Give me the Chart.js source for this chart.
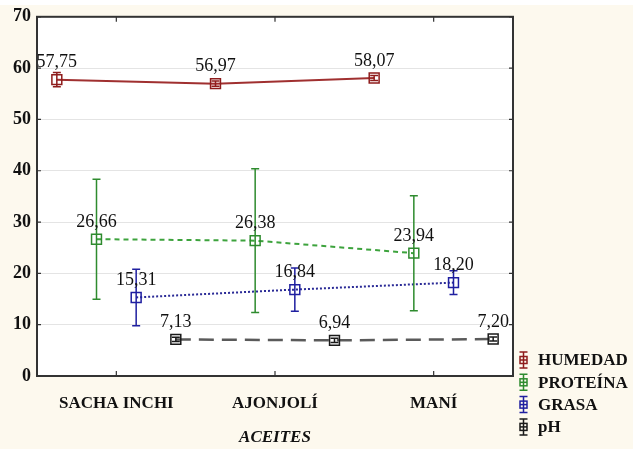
<!DOCTYPE html>
<html>
<head>
<meta charset="utf-8">
<script src="https://cdn.jsdelivr.net/npm/chart.js@4.4.1/dist/chart.umd.min.js"></script>
<style>
  html, body { margin: 0; padding: 0; background: #FDF9EE; }
  canvas { display: block; }
</style>
</head>
<body>
<canvas id="c" width="633" height="449"></canvas>
<script>
// ---- data ----
const categories = ['SACHA INCHI', 'AJONJOLÍ', 'MANÍ'];
const seriesNames = ['HUMEDAD', 'PROTEÍNA', 'GRASA', 'pH'];
const humedad  = [57.75, 56.97, 58.07];
const proteina = [26.66, 26.38, 23.94];
const grasa    = [15.31, 16.84, 18.20];
const ph       = [7.13, 6.94, 7.20];
const humedadErr  = [1.4, 0.5, 0.5];
const proteinaErr = [11.7, 14.0, 11.2];
const grasaErr    = [5.5, 4.2, 2.3];
const phErr       = [0.4, 0.4, 0.4];
const yTicks = [0, 10, 20, 30, 40, 50, 60, 70];
const xTitle = 'ACEITES';
// offset of each series inside its category group (in category units)
const seriesOffset = [-0.375, -0.125, 0.125, 0.375];

const colors = {
  line:   ['#A03030', '#3DA33D', '#2A2A96', '#5A5A5A'],
  marker: ['#8E1C1C', '#2E8B2E', '#1F1FA0', '#1A1A1A']
};
const dashes = [[], [5, 4], [2, 2], [15, 8]];
const values = [humedad, proteina, grasa, ph];
const errors = [humedadErr, proteinaErr, grasaErr, phErr];

const fmt = v => v.toFixed(2).replace('.', ',');

const datasets = seriesNames.map((name, k) => ({
  label: name,
  data: values[k].map((v, i) => ({ x: i + seriesOffset[k], y: v })),
  errors: errors[k],
  borderColor: colors.line[k],
  backgroundColor: 'rgba(0,0,0,0)',
  borderWidth: k === 3 ? 2.5 : 2,
  borderDash: dashes[k],
  pointStyle: 'rect',
  pointRadius: 7,
  pointHoverRadius: 7,
  pointBorderColor: colors.marker[k],
  pointBackgroundColor: 'rgba(0,0,0,0)',
  pointBorderWidth: 1.5,
  markerColor: colors.marker[k],
  tension: 0
}));

const serif = '"Liberation Serif", "Times New Roman", serif';

const framePlugin = {
  id: 'frame',
  beforeDraw(chart) {
    const { ctx, chartArea: a } = chart;
    ctx.save();
    ctx.fillStyle = '#FDF9EE';
    ctx.fillRect(0, 0, chart.width, chart.height);
    ctx.fillStyle = '#FFFFFF';
    ctx.fillRect(0, 0, chart.width, 5);
    ctx.fillRect(a.left, a.top, a.right - a.left, a.bottom - a.top);
    ctx.restore();
  },
  afterDatasetsDraw(chart) {
    const { ctx } = chart;
    const xs = chart.scales.x, ys = chart.scales.y;
    // error bars
    chart.data.datasets.forEach((ds, k) => {
      ctx.save();
      ctx.strokeStyle = ds.markerColor;
      ctx.lineWidth = 1.5;
      ds.data.forEach((p, i) => {
        const e = ds.errors[i];
        const px = xs.getPixelForValue(p.x);
        const y1 = ys.getPixelForValue(p.y + e);
        const y2 = ys.getPixelForValue(p.y - e);
        ctx.beginPath();
        ctx.moveTo(px, y1); ctx.lineTo(px, y2);
        ctx.moveTo(px - 4, y1); ctx.lineTo(px + 4, y1);
        ctx.moveTo(px - 4, y2); ctx.lineTo(px + 4, y2);
        ctx.stroke();
      });
      ctx.restore();
    });
    // value labels
    ctx.save();
    ctx.font = '18px ' + serif;
    ctx.fillStyle = '#111';
    ctx.textAlign = 'center';
    ctx.textBaseline = 'middle';
    chart.data.datasets.forEach((ds) => {
      ds.data.forEach((p) => {
        const px = xs.getPixelForValue(p.x);
        const py = ys.getPixelForValue(p.y);
        ctx.fillText(fmt(p.y), px, py - 17);
      });
    });
    ctx.restore();
  },
  afterDraw(chart) {
    const { ctx, chartArea: a } = chart;
    const xs = chart.scales.x, ys = chart.scales.y;
    ctx.save();
    // frame
    ctx.strokeStyle = '#333';
    ctx.lineWidth = 2;
    ctx.strokeRect(a.left, a.top, a.right - a.left, a.bottom - a.top);
    // inside ticks
    ctx.lineWidth = 1.2;
    yTicks.forEach(v => {
      const y = ys.getPixelForValue(v);
      ctx.beginPath();
      ctx.moveTo(a.left, y); ctx.lineTo(a.left + 4, y);
      ctx.moveTo(a.right, y); ctx.lineTo(a.right - 4, y);
      ctx.stroke();
    });
    categories.forEach((c, i) => {
      const x = xs.getPixelForValue(i);
      ctx.beginPath();
      ctx.moveTo(x, a.bottom); ctx.lineTo(x, a.bottom - 5);
      ctx.moveTo(x, a.top); ctx.lineTo(x, a.top + 5);
      ctx.stroke();
    });
    // legend
    const lx = 523.5, ly0 = 360, step = 22.3;
    chart.data.datasets.forEach((ds, k) => {
      const y = ly0 + k * step;
      ctx.strokeStyle = ds.markerColor;
      ctx.lineWidth = 1.5;
      ctx.beginPath();
      ctx.moveTo(lx, y - 8); ctx.lineTo(lx, y + 8);
      ctx.moveTo(lx - 4, y - 8); ctx.lineTo(lx + 4, y - 8);
      ctx.moveTo(lx - 4, y + 8); ctx.lineTo(lx + 4, y + 8);
      ctx.stroke();
      ctx.strokeRect(lx - 3.5, y - 3.5, 7, 7);
      ctx.beginPath();
      ctx.moveTo(lx - 3.5, y); ctx.lineTo(lx + 3.5, y);
      ctx.stroke();
      ctx.fillStyle = '#111';
      ctx.font = 'bold 17px ' + serif;
      ctx.textAlign = 'left';
      ctx.textBaseline = 'middle';
      ctx.fillText(ds.label, 538, y + 1);
    });
    ctx.restore();
  }
};

new Chart(document.getElementById('c'), {
  type: 'line',
  data: { datasets },
  options: {
    responsive: false,
    animation: false,
    devicePixelRatio: 1,
    layout: { padding: { left: 0, top: 15, right: 120, bottom: 0 } },
    plugins: {
      legend: { display: false },
      tooltip: { enabled: false }
    },
    scales: {
      x: {
        type: 'linear',
        min: -0.5,
        max: 2.5,
        afterFit(s) { s.height = 73; },
        afterBuildTicks(s) { s.ticks = categories.map((c, i) => ({ value: i })); },
        grid: { display: false, drawTicks: false },
        border: { display: false },
        ticks: {
          padding: 17,
          color: '#111',
          font: { family: serif, size: 17, weight: 'bold' },
          callback: v => categories[v]
        },
        title: {
          display: true,
          text: xTitle,
          color: '#111',
          font: { family: serif, size: 17, weight: 'bold', style: 'italic' },
          padding: { top: 0, bottom: 1 }
        }
      },
      y: {
        min: 0,
        max: 70,
        afterFit(s) { s.width = 37; },
        afterBuildTicks(s) { s.ticks = yTicks.map(v => ({ value: v })); },
        grid: { color: '#E4E4E4', lineWidth: 1, drawTicks: false },
        border: { display: false },
        ticks: {
          padding: 6,
          color: '#111',
          font: { family: serif, size: 18, weight: 'bold' }
        }
      }
    }
  },
  plugins: [framePlugin]
});
</script>
</body>
</html>
